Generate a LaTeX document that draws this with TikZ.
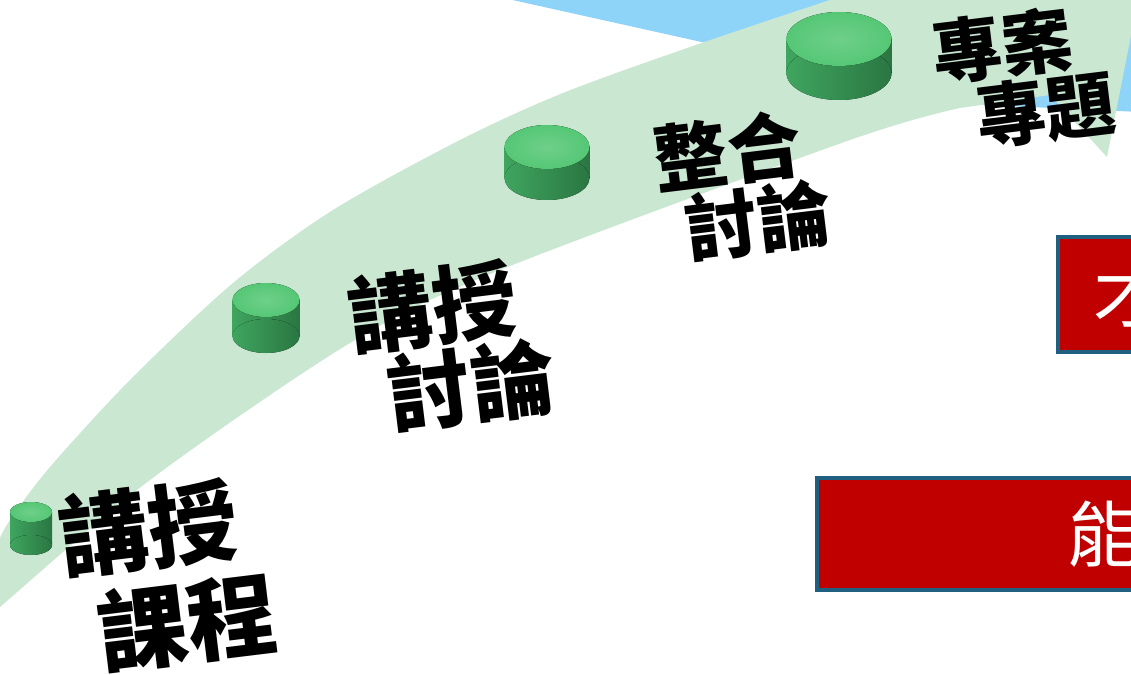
\documentclass[tikz,border=0pt]{standalone}
\usepackage{fontspec}
\newfontfamily\cjk{Noto Sans CJK TC}
\usetikzlibrary{shapes.geometric, arrows}
\definecolor{bandgreen}{HTML}{CAE7D2}
\definecolor{skyblue}{HTML}{8ED4F8}
\definecolor{boxred}{HTML}{C00000}
\definecolor{boxedge}{HTML}{1F5F7F}
\definecolor{knobtop}{HTML}{55C775}
\definecolor{knobside}{HTML}{3FA55F}
\definecolor{knobdark}{HTML}{2A7642}
\tikzstyle{steplabel} = [align=left, rotate=7, inner sep=0pt, text=black]
\tikzstyle{redbox} = [rectangle, draw=boxedge, line width=2.3pt, fill=boxred, text=white, font=\cjk\fontsize{41}{41}\selectfont]

\begin{document}
\begin{tikzpicture}[x=0.02cm, y=-0.02cm]

\useasboundingbox (0,0) rectangle (1131,675);
\clip (0,0) rectangle (1131,675);

\fill[skyblue] (490,-5) -- (1140,-5) -- (1140,112) -- (985,105) -- cycle;

\fill[bandgreen] plot[smooth] coordinates {(-5,548) (10,520) (50,467) (130,380) (233,283) (333,210) (460,140) (563,93) (690,47) (830,0) (930,-32)}
  -- (1000,-70) -- (1142,-20) -- (1107,157) -- (1050,95)
  -- plot[smooth] coordinates {(960,108) (850,140) (500,270) (350,343) (150,480) (0,607) (-5,612)} -- cycle;

\foreach \x/\yt/\w/\h/\ry [count=\i] in {31/502/42/53/10, 266/283/67/70/17, 547/125/85/75/22, 839/12/105/88/27} {
  \coordinate (knob\i) at (\x,\yt);
  \fill[left color=knobside, right color=knobdark] ({\x-\w/2},{\yt+\ry}) rectangle ({\x+\w/2},{\yt+\h-\ry});
  \fill[left color=knobside, right color=knobdark] (\x,{\yt+\h-\ry}) ellipse [x radius=\w/2, y radius=\ry];
  \fill[inner color=knobtop!85!white, outer color=knobtop] (\x,{\yt+\ry}) ellipse [x radius=\w/2, y radius=\ry];
}

\node (lecture) [steplabel, font=\cjk\bfseries\fontsize{51}{56}\selectfont] at (168,575) {講授\\\hspace*{0.3em}課程};
\node (discuss) [steplabel, font=\cjk\bfseries\fontsize{48}{46}\selectfont] at (452,346) {講授\\\hspace*{0.35em}討論};
\node (integrate) [steplabel, font=\cjk\bfseries\fontsize{42}{39}\selectfont] at (743,186) {整合\\\hspace*{0.3em}討論};
\node (project) [steplabel, font=\cjk\bfseries\fontsize{40}{36}\selectfont] at (1024,78) {專案\\\hspace*{0.5em}專題};

\node (talentbox) [redbox, minimum width=2.84cm, minimum height=2.3cm] at (1129,294.5) {才};
\node (skillbox) [redbox, minimum width=11.44cm, minimum height=2.24cm] at (1103,534) {能};

\end{tikzpicture}
\end{document}
